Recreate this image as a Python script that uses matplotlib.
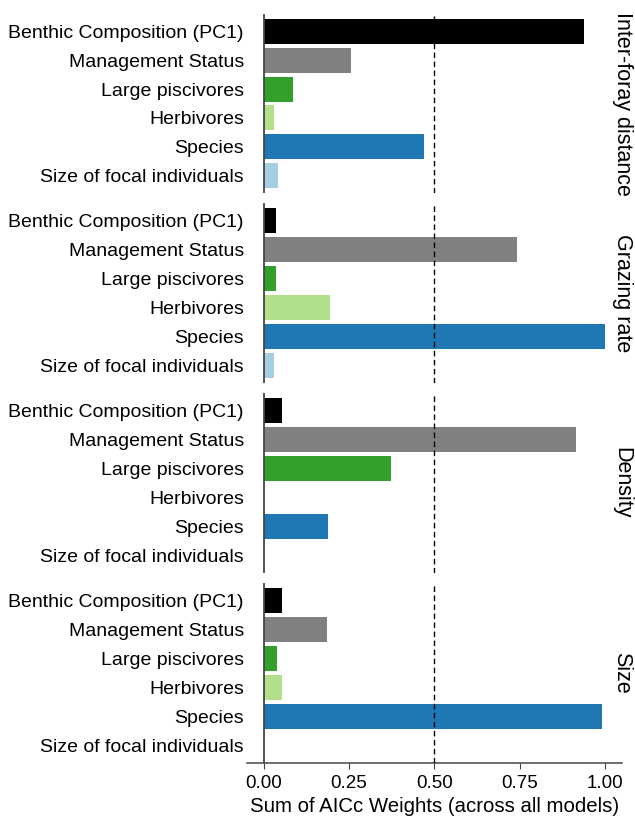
import matplotlib.pyplot as plt

plt.rcParams['font.family'] = ['Liberation Sans', 'DejaVu Sans']

# predictors, top to bottom in each panel
predictors = ['Benthic Composition (PC1)', 'Management Status', 'Large piscivores',
              'Herbivores', 'Species', 'Size of focal individuals']
colors = ['#000000', '#808080', '#33a02c', '#b2df8a', '#1f78b4', '#a6cee3']

# one panel per response
responses = ['Inter-foray distance', 'Grazing rate', 'Density', 'Size']
interforay = [0.94, 0.256, 0.085, 0.030, 0.470, 0.043]
grazing = [0.037, 0.741, 0.037, 0.193, 1.00, 0.030]
density = [0.053, 0.916, 0.374, 0.0, 0.187, 0.0]
size = [0.053, 0.184, 0.040, 0.053, 0.992, 0.0]
weights = [interforay, grazing, density, size]

xticks = [0.0, 0.25, 0.5, 0.75, 1.0]

W, H = 635, 818
fig = plt.figure(figsize=(W / 100, H / 100), dpi=100)

left, right = 246.7, 622
panels = [(14, 193), (203, 383), (393, 573), (583, 763)]
ypos = list(range(len(predictors)))

for i, (top, bot) in enumerate(panels):
    ax = fig.add_axes([left / W, 1 - bot / H, (right - left) / W, (bot - top) / H])
    vals = weights[i]
    ax.barh(ypos, vals, height=0.87, color=colors)
    ax.axvline(0, color='#444444', lw=1.3, zorder=3)
    ax.axvline(0.5, color='black', lw=1, ls=(0, (4, 2.5)), zorder=4)
    ax.set_xlim(-0.05, 1.05)
    ax.set_ylim(len(predictors) - 0.38, -0.62)
    ax.set_yticks(ypos)
    ax.set_yticklabels(predictors, fontsize=14)
    ax.tick_params(axis='y', length=0, pad=2)
    for s in ['top', 'right', 'left']:
        ax.spines[s].set_visible(False)
    ax.text(1.0, 0.5, responses[i], transform=ax.transAxes, rotation=-90,
            ha='center', va='center', fontsize=15.5)
    if i < len(panels) - 1:
        ax.spines['bottom'].set_visible(False)
        ax.set_xticks([])
    else:
        ax.spines['bottom'].set_color('#444444')
        ax.spines['bottom'].set_linewidth(1.1)
        ax.set_xticks(xticks)
        ax.set_xticklabels(['%.2f' % t for t in xticks], fontsize=13.5)
        ax.tick_params(axis='x', length=4, color='#444444', pad=5)
        ax.set_xlabel('Sum of AICc Weights (across all models)', fontsize=14.7, labelpad=3)

fig.savefig('out.png', dpi=100)
